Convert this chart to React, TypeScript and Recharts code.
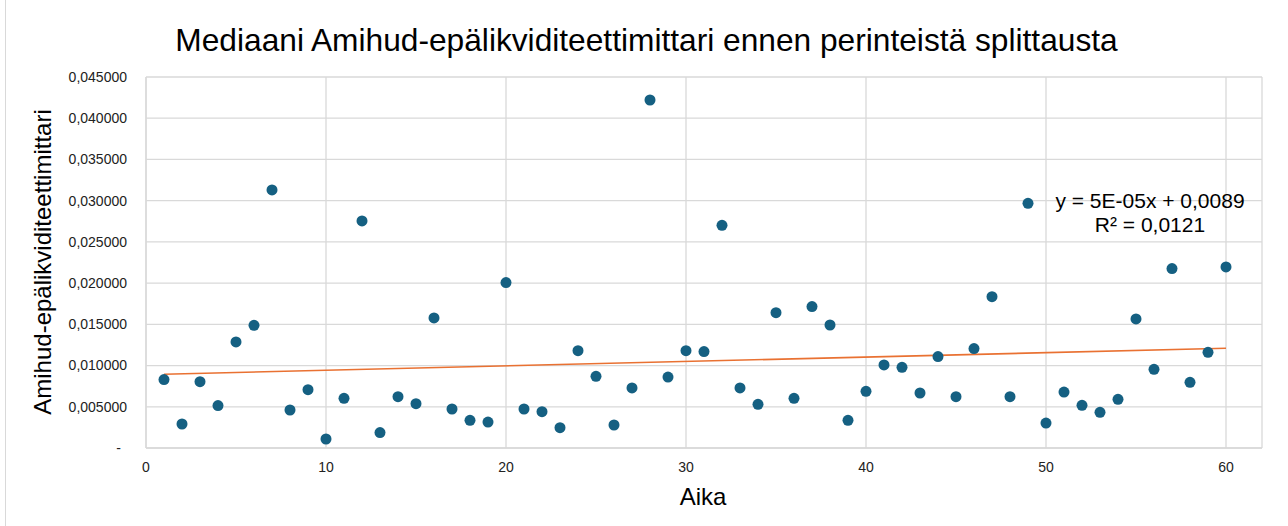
import React from "react";
import {
  ScatterChart,
  Scatter,
  XAxis,
  YAxis,
  CartesianGrid,
  ReferenceLine,
} from "recharts";

const aika = [
  1, 2, 3, 4, 5, 6, 7, 8, 9, 10, 11, 12, 13, 14, 15, 16, 17, 18, 19, 20,
  21, 22, 23, 24, 25, 26, 27, 28, 29, 30, 31, 32, 33, 34, 35, 36, 37, 38, 39, 40,
  41, 42, 43, 44, 45, 46, 47, 48, 49, 50, 51, 52, 53, 54, 55, 56, 57, 58, 59, 60,
];

const amihud = [
  0.0083, 0.00291, 0.00805, 0.00514, 0.01286, 0.01488, 0.0313, 0.00461, 0.00708, 0.00109,
  0.00603, 0.02754, 0.00187, 0.00623, 0.00538, 0.01577, 0.00473, 0.00336, 0.00315, 0.02006,
  0.00473, 0.00441, 0.00247, 0.01181, 0.0087, 0.00279, 0.00728, 0.04221, 0.00861, 0.01181,
  0.01169, 0.02701, 0.00728, 0.0053, 0.01642, 0.00603, 0.01715, 0.01492, 0.00336, 0.00688,
  0.01007, 0.00979, 0.00667, 0.01109, 0.00623, 0.01206, 0.01836, 0.00623, 0.02968, 0.00303,
  0.00679, 0.00518, 0.00433, 0.00591, 0.01565, 0.00955, 0.02176, 0.00797, 0.01161, 0.02196,
];

// trendline ends as drawn in the original
const trendX = [1, 60];
const trendY = [0.00895, 0.0121];

const xTicks = [0, 10, 20, 30, 40, 50, 60];
const yTicks = [0, 0.005, 0.01, 0.015, 0.02, 0.025, 0.03, 0.035, 0.04, 0.045];

const points = aika.map((x, i) => ({ x, y: amihud[i] }));

const FONT = '"Liberation Sans", Arial, sans-serif';
const GRID = "#d9d9d9";

const YTick = (props: any) => {
  const { x, y, payload } = props;
  const v = payload.value as number;
  const label = v === 0 ? "-" : v.toFixed(6).replace(".", ",");
  return (
    <text
      x={v === 0 ? x - 6 : x}
      y={y}
      dy="0.35em"
      textAnchor="end"
      fontSize={14}
      fontFamily={FONT}
      fill="#222"
    >
      {label}
    </text>
  );
};

const Dot = (props: any) => (
  <circle cx={props.cx} cy={props.cy} r={5.5} fill="#156082" />
);

export default function App() {
  return (
    <div
      style={{
        position: "relative",
        width: 1288,
        height: 526,
        background: "#fff",
        fontFamily: FONT,
      }}
    >
      <style>{"body{margin:0}"}</style>
      <div
        style={{
          position: "absolute",
          left: 5,
          top: 0,
          width: 1,
          height: 526,
          background: GRID,
        }}
      />
      <div
        style={{
          position: "absolute",
          left: 0,
          width: 1293,
          top: 22,
          textAlign: "center",
          fontSize: 31.7,
          color: "#000",
          whiteSpace: "nowrap",
        }}
      >
        Mediaani Amihud-epälikviditeettimittari ennen perinteistä splittausta
      </div>
      <ScatterChart
        width={1288}
        height={526}
        margin={{ top: 77, right: 26, bottom: 48, left: 0 }}
      >
        <CartesianGrid stroke={GRID} strokeWidth={1.3} />
        <XAxis
          type="number"
          dataKey="x"
          domain={[0, 62]}
          ticks={xTicks}
          allowDataOverflow
          height={30}
          tickLine={false}
          tickSize={0}
          tickMargin={14}
          axisLine={{ stroke: GRID, strokeWidth: 1.5 }}
          tick={{ fontSize: 14, fontFamily: FONT, fill: "#222" }}
        />
        <YAxis
          type="number"
          dataKey="y"
          domain={[0, 0.045]}
          ticks={yTicks}
          width={146}
          tickLine={false}
          tickSize={0}
          tickMargin={19}
          axisLine={{ stroke: GRID, strokeWidth: 1.3 }}
          tick={<YTick />}
        />
        <Scatter
          data={points}
          shape={<Dot />}
          isAnimationActive={false}
        />
        <ReferenceLine
          segment={[
            { x: trendX[0], y: trendY[0] },
            { x: trendX[1], y: trendY[1] },
          ]}
          stroke="#E97132"
          strokeWidth={1.6}
        />
      </ScatterChart>
      <div
        style={{
          position: "absolute",
          left: 43,
          top: 262,
          transform: "translate(-50%, -50%) rotate(-90deg)",
          fontSize: 24,
          color: "#000",
          whiteSpace: "nowrap",
        }}
      >
        Amihud-epälikviditeettimittari
      </div>
      <div
        style={{
          position: "absolute",
          left: 703,
          top: 497,
          transform: "translate(-50%, -50%)",
          fontSize: 24,
          color: "#000",
        }}
      >
        Aika
      </div>
      <div
        style={{
          position: "absolute",
          left: 1150,
          top: 189,
          transform: "translateX(-50%)",
          fontSize: 21,
          lineHeight: "24px",
          textAlign: "center",
          color: "#000",
          whiteSpace: "nowrap",
        }}
      >
        y = 5E-05x + 0,0089
        <br />
        R² = 0,0121
      </div>
    </div>
  );
}
